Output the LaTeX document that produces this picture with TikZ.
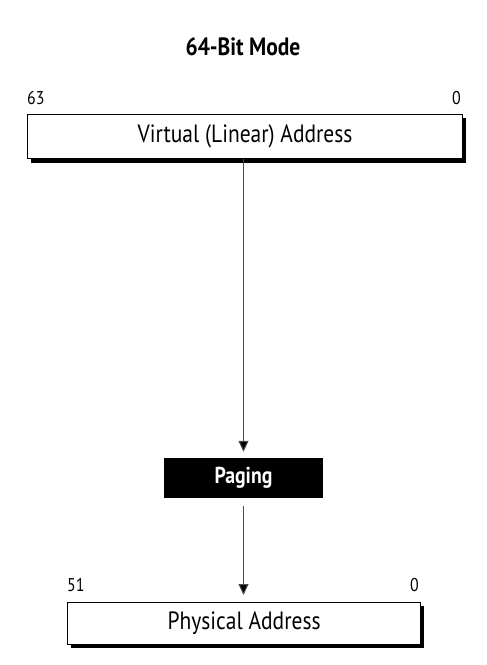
\documentclass[tikz,border=0pt]{standalone}
\usepackage{fontspec}
\setmainfont{PT Sans}[FakeStretch=0.86]
\usetikzlibrary{arrows.meta}
\begin{document}
\begin{tikzpicture}[x=1pt,y=-1pt,
  addrbox/.style={draw=black,line width=1.2pt,fill=white,inner sep=0pt,anchor=north west},
  lbl/.style={font=\fontsize{25}{28}\selectfont},
  bitnum/.style={font=\fontsize{18.5}{21}\selectfont,inner sep=0pt},
  conn/.style={draw=black!70,line width=1pt,-{Triangle[length=11pt,width=10pt,fill=black]}}]
\useasboundingbox (0,0) rectangle (487,665);
% title
\node[font=\bfseries\fontsize{25}{28}\selectfont] (title) at (243,47) {64-Bit Mode};
% top box
\fill (31,118) rectangle (466,163);
\node[addrbox,minimum width=435pt,minimum height=44pt] (vbox) at (27,114) {};
\node[lbl] (vtext) at (vbox.center) {Virtual (Linear) Address};
\node[bitnum,anchor=west] (v63) at (27,98) {63};
\node[bitnum,anchor=east] (v0) at (461,98) {0};
% paging
\node[fill=black,minimum width=159pt,minimum height=40pt,inner sep=0pt,text=white,font=\bfseries\fontsize{23}{26}\selectfont] (paging) at (243.5,478) {Paging};
% bottom box
\fill (71,606) rectangle (424,648);
\node[addrbox,minimum width=353pt,minimum height=42pt] (pbox) at (67,602) {};
\node[lbl] (ptext) at (pbox.center) {Physical Address};
\node[bitnum,anchor=west] (p51) at (67,585) {51};
\node[bitnum,anchor=east] (p0) at (419,585) {0};
% connectors
\draw[conn] (vbox.south -| paging.north) -- ([yshift=6pt]paging.north);
\draw[conn] ([yshift=-8pt]paging.south) -- ([yshift=7pt]pbox.north -| paging.south);
\end{tikzpicture}
\end{document}
